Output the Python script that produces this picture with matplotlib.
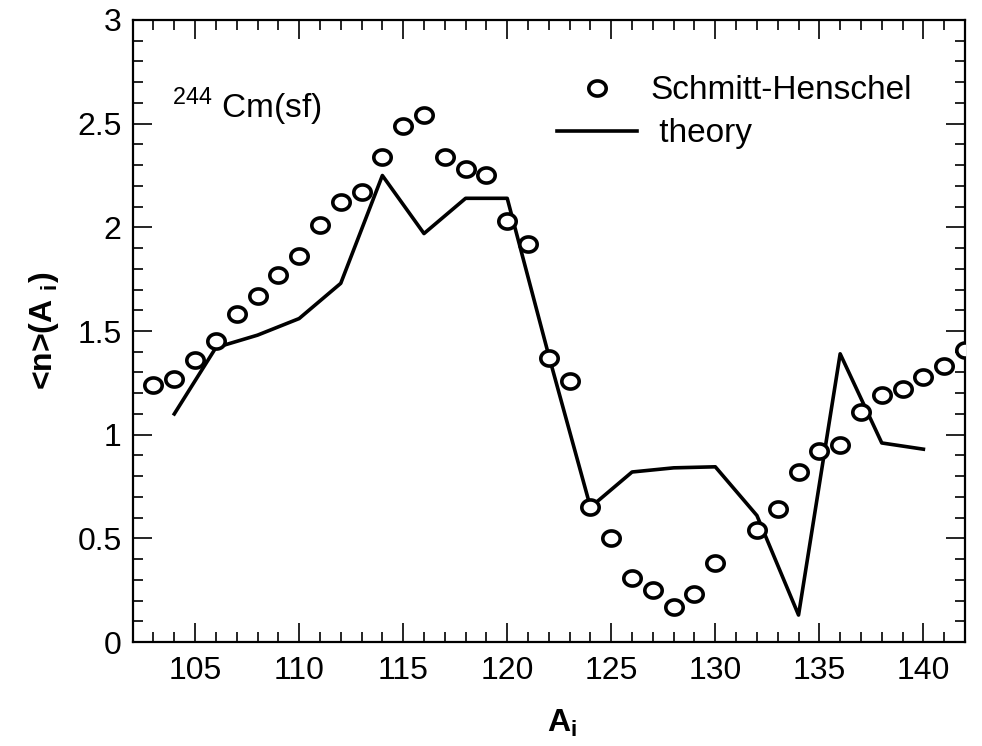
import matplotlib
matplotlib.use("Agg")
import numpy as np
import matplotlib.pyplot as plt
from matplotlib.path import Path
from matplotlib.ticker import MultipleLocator

plt.rcParams['font.family'] = ['Liberation Sans', 'DejaVu Sans']
plt.rcParams['mathtext.fontset'] = 'custom'
plt.rcParams['mathtext.rm'] = 'Liberation Sans'
plt.rcParams['mathtext.bf'] = 'Liberation Sans:bold'

# Experimental neutron multiplicity (Schmitt-Henschel)
exp_A = [103, 104, 105, 106, 107, 108, 109, 110, 111, 112, 113, 114, 115, 116,
         117, 118, 119, 120, 121, 122, 123, 124, 125, 126, 127, 128, 129, 130,
         132, 133, 134, 135, 136, 137, 138, 139, 140, 141, 142]
exp_n = [1.24, 1.27, 1.36, 1.45, 1.58, 1.67, 1.77, 1.86, 2.01, 2.12, 2.17, 2.34,
         2.49, 2.54, 2.34, 2.28, 2.25, 2.03, 1.92, 1.37, 1.26, 0.65, 0.50, 0.31,
         0.25, 0.17, 0.23, 0.38, 0.54, 0.64, 0.82, 0.92, 0.95, 1.11, 1.19, 1.22,
         1.28, 1.33, 1.41]

# Theoretical curve
th_A = [104, 106, 108, 110, 112, 114, 116, 118, 120, 122, 124, 126, 128, 130,
        132, 134, 136, 138, 140]
th_n = [1.10, 1.42, 1.48, 1.56, 1.73, 2.25, 1.97, 2.14, 2.14, 1.38, 0.65, 0.82,
        0.84, 0.845, 0.61, 0.13, 1.39, 0.96, 0.93]

# slightly wide open-ellipse marker
t = np.linspace(0, 2 * np.pi, 65)
ell = Path(np.column_stack([1.15 * np.cos(t), np.sin(t)]), closed=True)

fig = plt.figure(figsize=(9.82, 7.46), dpi=100)
ax = fig.add_axes([0.1351, 0.1394, 0.8476, 0.8338])

ax.plot(exp_A, exp_n, linestyle='none', marker=ell, markersize=12.5,
        markerfacecolor='white', markeredgecolor='black', markeredgewidth=2.6,
        label='Schmitt-Henschel', zorder=3)
ax.plot(th_A, th_n, color='black', linewidth=2.6, label=' theory', zorder=2)

ax.set_xlim(102, 142)
ax.set_ylim(0, 3)
ax.xaxis.set_minor_locator(MultipleLocator(1))
ax.yaxis.set_minor_locator(MultipleLocator(0.1))
ax.set_yticks([0, 0.5, 1, 1.5, 2, 2.5, 3])
ax.set_yticklabels(['0', '0.5', '1', '1.5', '2', '2.5', '3'])
ax.set_xticks([105, 110, 115, 120, 125, 130, 135, 140])

ax.tick_params(which='both', direction='in', top=True, right=True,
               labelsize=23)
ax.tick_params(axis='x', which='both', pad=10)
ax.tick_params(axis='y', which='both', pad=8)
ax.tick_params(which='major', length=14, width=1.2)
ax.tick_params(which='minor', length=7, width=1.2)
for sp in ax.spines.values():
    sp.set_linewidth(1.6)

ax.set_xlabel(r'A$_{\mathdefault{i}}$', fontsize=23, fontweight='bold')
ax.xaxis.set_label_coords(0.516, -0.106)
ax.set_ylabel(r'<n>(A $_{\mathdefault{i}}$)', fontsize=23, fontweight='bold', labelpad=12)

ax.text(0.047, 0.842, r'$^{\mathdefault{244}}$ Cm(sf)', transform=ax.transAxes,
        fontsize=24, va='baseline', ha='left')

leg = ax.legend(loc='upper left', bbox_to_anchor=(0.51, 0.911), frameon=False,
                fontsize=24, handlelength=2.4, handletextpad=0.4,
                labelspacing=0.36, borderaxespad=0, borderpad=0)

fig.savefig('out.png', dpi=100)
